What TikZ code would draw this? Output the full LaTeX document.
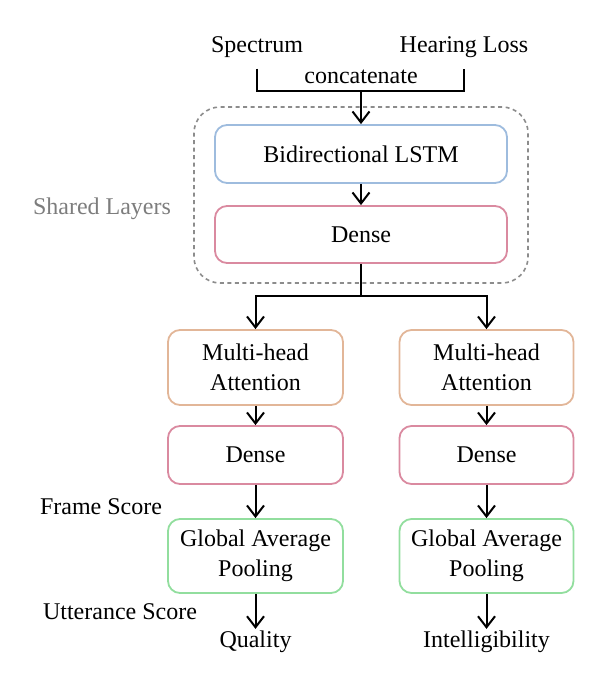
\documentclass[tikz,border=0pt]{standalone}
\usepackage{fontspec}
\setmainfont{Liberation Serif}
\usetikzlibrary{arrows.meta}
\definecolor{cblue}{RGB}{158,188,222}
\definecolor{cpink}{RGB}{218,138,160}
\definecolor{corange}{RGB}{226,182,152}
\definecolor{cgreen}{RGB}{146,222,158}
\definecolor{cdash}{RGB}{140,140,140}
\definecolor{cgraytext}{RGB}{125,125,125}
\begin{document}
\begin{tikzpicture}[x=1pt,y=-1pt,
  font=\fontsize{24}{30}\selectfont,
  box/.style={draw, rounded corners=12pt, line width=1.8pt, align=center, inner sep=0pt, text=black},
  lbl/.style={inner sep=2pt, align=center},
  arr/.style={-{Straight Barb[length=11pt,width=17pt,line width=2pt]}, line width=2pt},
  ln/.style={line width=2pt}]
\useasboundingbox (0,0) rectangle (604,679);

% inputs
\node[lbl] (spec) at (257,47) {Spectrum};
\node[lbl] (hl) at (464,47) {Hearing Loss};
\node[lbl] (cat) at (361,77) {concatenate};
\coordinate (j) at (361,91);

% shared layers
\node[draw=cdash, dash pattern=on 4pt off 3.5pt, line width=1.6pt, rounded corners=26pt,
      minimum width=334pt, minimum height=176pt, inner sep=0pt] (shared) at (361,195) {};
\node[lbl, text=cgraytext] (sharedlbl) at (102,209) {Shared Layers};
\node[box, draw=cblue, minimum width=292pt, minimum height=58pt] (lstm) at (361,154) {Bidirectional LSTM};
\node[box, draw=cpink, minimum width=292pt, minimum height=57pt] (dense) at (361,234.5) {Dense};
\coordinate (k) at (361,296);

% branches
\node[box, draw=corange, minimum width=175pt, minimum height=75pt] (mhaA) at (255.5,367.5) {Multi-head\\Attention};
\node[box, draw=corange, minimum width=174pt, minimum height=75pt] (mhaB) at (486.5,367.5) {Multi-head\\Attention};
\node[box, draw=cpink, minimum width=175pt, minimum height=58pt] (denA) at (255.5,455) {Dense};
\node[box, draw=cpink, minimum width=174pt, minimum height=58pt] (denB) at (486.5,455) {Dense};
\node[box, draw=cgreen, minimum width=175pt, minimum height=74pt] (gapA) at (255.5,556) {Global Average\\Pooling};
\node[box, draw=cgreen, minimum width=174pt, minimum height=74pt] (gapB) at (486.5,556) {Global Average\\Pooling};
\node[lbl] (qual) at (255.5,642) {Quality};
\node[lbl] (intel) at (486.5,642) {Intelligibility};

\node[lbl] (frame) at (101,507) {Frame Score};
\node[lbl] (utt) at (120,612) {Utterance Score};

% connectors
\draw[ln] ([yshift=-9pt]spec.south) |- (j) -| ([yshift=-9pt]hl.south);
\draw[arr] (j) -- (lstm.north);
\draw[arr] (lstm) -- (dense);
\draw[ln] (dense.south) -- (k);
\draw[arr] (k) -| (mhaA.north);
\draw[arr] (k) -| (mhaB.north);
\draw[arr] (mhaA) -- (denA);
\draw[arr] (mhaB) -- (denB);
\draw[arr] (denA) -- (gapA);
\draw[arr] (denB) -- (gapB);
\draw[arr] (gapA) -- (qual);
\draw[arr] (gapB) -- (intel);
\end{tikzpicture}
\end{document}
